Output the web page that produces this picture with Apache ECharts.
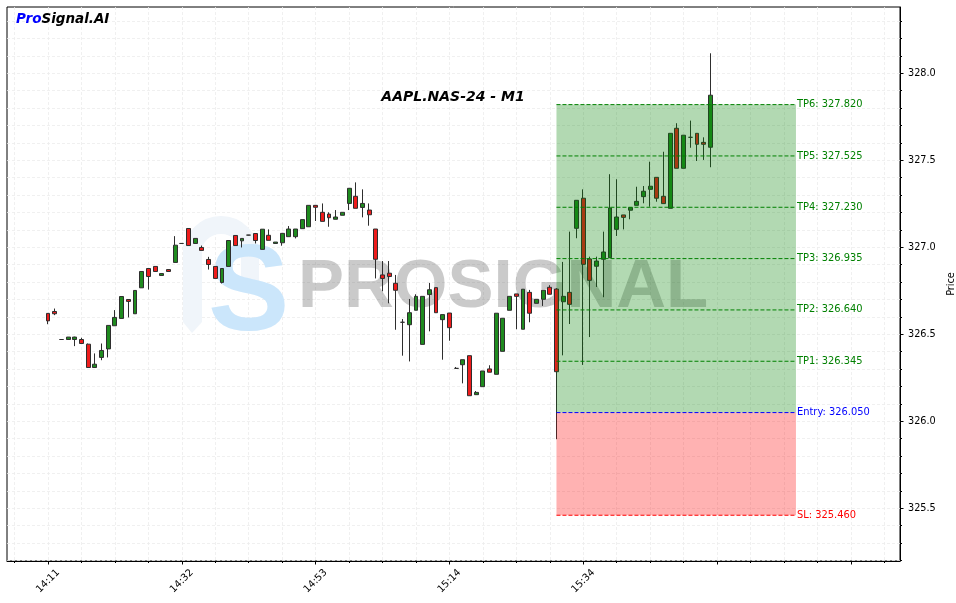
<!DOCTYPE html>
<html><head><meta charset="utf-8">
<script src="https://cdn.jsdelivr.net/npm/echarts@6/dist/echarts.min.js"></script>
<style>html,body{margin:0;padding:0;background:#fff}#c{width:956px;height:603px}</style>
</head><body><div id="c"></div><script>
const opens = [326.620,326.631,326.470,326.470,326.470,326.470,326.443,326.309,326.367,326.416,
326.549,326.591,326.700,326.618,326.767,326.878,326.890,326.838,326.872,326.913,
327.022,327.108,327.022,326.999,326.930,326.890,326.798,326.890,327.068,327.037,
327.070,327.079,326.988,327.069,327.022,327.026,327.061,327.061,327.107,327.118,
327.241,327.201,327.191,327.161,327.184,327.252,327.293,327.229,327.214,327.105,
326.841,326.851,326.793,326.569,326.555,326.638,326.442,326.728,326.768,326.584,
326.622,326.304,326.325,326.377,326.153,326.199,326.301,326.270,326.402,326.638,
326.732,326.529,326.741,326.678,326.701,326.770,326.760,326.687,326.741,327.109,
327.282,326.933,326.891,326.931,326.940,327.103,327.186,327.213,327.241,327.291,
327.333,327.402,327.293,327.224,327.684,327.454,327.632,327.655,327.603,327.575];
const closes = [326.577,326.618,326.470,326.484,326.484,326.447,326.309,326.328,326.407,326.551,
326.597,326.717,326.689,326.752,326.861,326.832,326.861,326.849,326.861,327.012,
327.022,327.010,327.051,326.982,326.901,326.821,326.878,327.039,327.010,327.051,
327.070,327.039,327.104,327.040,327.030,327.080,327.105,327.105,327.159,327.241,
327.230,327.149,327.170,327.174,327.201,327.339,327.224,327.252,327.187,326.931,
326.821,326.832,326.753,326.569,326.624,326.718,326.718,326.756,326.624,326.613,
326.538,326.304,326.354,326.147,326.166,326.289,326.282,326.621,326.592,326.718,
326.718,326.759,326.621,326.701,326.753,326.730,326.285,326.718,326.672,327.270,
326.902,326.810,326.921,326.973,327.226,327.174,327.172,327.228,327.264,327.322,
327.351,327.282,327.251,327.655,327.454,327.644,327.632,327.592,327.592,327.874];
const lows = [326.558,326.610,326.469,326.470,326.432,326.445,326.309,326.309,326.351,326.367,
326.549,326.591,326.597,326.618,326.767,326.757,326.861,326.838,326.861,326.913,
327.021,327.010,327.022,326.982,326.872,326.821,326.792,326.890,327.010,326.999,
327.069,327.022,326.988,327.040,327.022,327.009,327.061,327.051,327.107,327.118,
327.151,327.149,327.118,327.161,327.184,327.214,327.224,327.172,327.124,326.821,
326.747,326.678,326.526,326.377,326.344,326.638,326.442,326.517,326.624,326.354,
326.463,326.303,326.218,326.147,326.153,326.199,326.282,326.270,326.402,326.638,
326.529,326.529,326.569,326.678,326.663,326.730,325.897,326.379,326.559,327.052,
326.324,326.484,326.772,326.713,326.940,327.065,327.103,327.161,327.241,327.253,
327.233,327.262,327.251,327.224,327.454,327.454,327.572,327.496,327.502,327.460];
const highs = [326.622,326.648,326.471,326.484,326.486,326.480,326.447,326.390,326.447,326.551,
326.639,326.717,326.700,326.752,326.861,326.878,326.890,326.849,326.872,327.064,
327.023,327.108,327.051,327.010,326.945,326.890,326.878,327.039,327.068,327.051,
327.071,327.079,327.104,327.103,327.030,327.080,327.122,327.105,327.159,327.241,
327.241,327.252,327.201,327.214,327.201,327.339,327.373,327.333,327.252,327.105,
326.921,326.921,326.841,326.588,326.703,326.730,326.718,326.795,326.768,326.613,
326.622,326.312,326.354,326.377,326.174,326.289,326.322,326.621,326.592,326.718,
326.732,326.759,326.755,326.701,326.753,326.782,326.765,326.916,327.090,327.270,
327.333,326.946,326.946,327.090,327.420,327.391,327.186,327.228,327.348,327.352,
327.492,327.402,327.549,327.655,327.713,327.644,327.728,327.655,327.632,328.115];

const tickIdx = [0, 20, 40, 60, 80, 100, 120];
const tickLabels = ['14:11', '14:32', '14:53', '15:14', '15:34', '', ''];
const yTickValues = [325.5, 326.0, 326.5, 327.0, 327.5, 328.0];
const levelNames = ['TP6', 'TP5', 'TP4', 'TP3', 'TP2', 'TP1', 'Entry', 'SL'];
const levelValues = [327.820, 327.525, 327.230, 326.935, 326.640, 326.345, 326.050, 325.460];
const entryIndex = 76;
const zoneEndIndex = 111.8;
const chartTitle = 'AAPL.NAS-24 - M1';

const X_MIN = -6.13, X_MAX = 127.35, Y_MIN = 325.197, Y_MAX = 328.381;
const FONT = 'DejaVu Sans';

const candleData = opens.map((o, i) => [i, o, closes[i], lows[i], highs[i]]);
const minorX = []; for (let v = -5; v <= 125; v += 5) minorX.push(v);
const minorY = []; for (let k = 3252; k <= 3283; k++) minorY.push(k / 10);

const tp6 = levelValues[levelNames.indexOf('TP6')];
const entry = levelValues[levelNames.indexOf('Entry')];
const sl = levelValues[levelNames.indexOf('SL')];
const zoneData = [[entryIndex, zoneEndIndex, tp6, entry], [entryIndex, zoneEndIndex, entry, sl]];
const zoneFill = ['rgba(0,128,0,0.3)', 'rgba(255,0,0,0.3)'];
const levelData = levelValues.map((v, i) => [entryIndex, zoneEndIndex, v, i]);
function levelColor(name) { return name === 'Entry' ? '#0000ff' : (name === 'SL' ? '#ff0000' : '#008000'); }

const gridLine = { show: true, lineStyle: { color: '#ececec', width: 0.8, type: [3, 2] } };

const chart = echarts.init(document.getElementById('c'), null, { renderer: 'canvas' });
chart.setOption({
  animation: false,
  backgroundColor: '#ffffff',
  textStyle: { fontFamily: FONT },
  grid: { left: 7, right: 56, top: 7, bottom: 42, outerBoundsMode: 'none', containLabel: false,
    show: true, borderColor: '#000', borderWidth: 1, backgroundColor: 'transparent' },
  xAxis: [
    { type: 'value', min: X_MIN, max: X_MAX, position: 'bottom',
      axisLine: { show: true, onZero: false, lineStyle: { color: '#000', width: 1 } },
      axisTick: { show: true, length: 3.5, customValues: tickIdx, lineStyle: { color: '#000' } },
      axisLabel: { show: true, customValues: tickIdx.slice(0, 5), rotate: 45, align: 'center', verticalAlign: 'middle', margin: 20,
        fontSize: 9.9, color: '#000', fontFamily: FONT,
        formatter: v => tickLabels[tickIdx.indexOf(Math.round(v))] },
      splitLine: { show: false } },
    { type: 'value', min: X_MIN, max: X_MAX, position: 'bottom',
      axisLine: { show: false, onZero: false },
      axisTick: { show: true, length: 2, customValues: minorX, lineStyle: { color: '#000' } },
      axisLabel: { show: false },
      splitLine: gridLine }
  ],
  yAxis: [
    { type: 'value', min: Y_MIN, max: Y_MAX, position: 'right',
      axisLine: { show: true, onZero: false, lineStyle: { color: '#000', width: 1 } },
      axisTick: { show: true, length: 3.5, customValues: yTickValues, lineStyle: { color: '#000' } },
      axisLabel: { show: true, customValues: yTickValues, margin: 8, fontSize: 9.7, color: '#000', fontFamily: FONT,
        formatter: v => v.toFixed(1) },
      splitLine: { show: false },
      name: 'Price', nameLocation: 'middle', nameGap: 40, nameRotate: 90,
      nameTextStyle: { fontSize: 9.7, color: '#000', fontFamily: FONT } },
    { type: 'value', min: Y_MIN, max: Y_MAX, position: 'right',
      axisLine: { show: false, onZero: false },
      axisTick: { show: true, length: 2, customValues: minorY, lineStyle: { color: '#000' } },
      axisLabel: { show: false },
      splitLine: gridLine }
  ],
  graphic: [
    { type: 'polygon', z: 1, shape: { points: [[183, 245], [183, 322], [192, 333], [202, 322], [202, 245]] }, style: { fill: '#f0f5fa' } },
    { type: 'arc', z: 1, shape: { cx: 221, cy: 254, r: 29, startAngle: Math.PI, endAngle: 2 * Math.PI, clockwise: true }, style: { fill: 'none', stroke: '#f0f5fa', lineWidth: 18 } },
    { type: 'line', z: 1, shape: { x1: 250, y1: 254, x2: 250, y2: 282 }, style: { stroke: '#f0f5fa', lineWidth: 18 } },
    { type: 'text', z: 1, x: 208, y: 296, style: { text: 'S', font: 'bold 122px "Liberation Sans"', fill: '#cbe6fb', verticalAlign: 'middle', align: 'left' } },
    { type: 'text', z: 1, x: 298, y: 288, style: { text: 'PROSIGNAL', font: 'bold 69px "Liberation Sans"', fill: 'rgba(80,80,80,0.3)', verticalAlign: 'middle', align: 'left' } },
    { type: 'text', z: 10, x: 16, y: 19, style: { text: '{a|Pro}{b|Signal.AI}', verticalAlign: 'middle',
      rich: { a: { fill: '#0000ff', font: 'italic bold 13.5px "DejaVu Sans"' }, b: { fill: '#000', font: 'italic bold 13.5px "DejaVu Sans"' } } } },
    { type: 'text', z: 10, x: 453, y: 97, style: { text: chartTitle, font: 'italic bold 14px "DejaVu Sans"', fill: '#000', align: 'center', verticalAlign: 'middle' } }
  ],
  series: [
    { type: 'candlestick', xAxisIndex: 0, yAxisIndex: 0, z: 2, barWidth: 4.4,
      itemStyle: { color: '#1f8b1f', color0: '#ee1c1c', borderColor: '#2e2e2e', borderColor0: '#2e2e2e', borderWidth: 1 },
      data: candleData },
    { type: 'custom', xAxisIndex: 0, yAxisIndex: 0, z: 3, silent: true,
      encode: { x: [0, 1], y: [2, 3] },
      renderItem: (params, api) => {
        const p1 = api.coord([api.value(0), api.value(2)]);
        const p2 = api.coord([api.value(1), api.value(3)]);
        return { type: 'rect', shape: { x: p1[0], y: p1[1], width: p2[0] - p1[0], height: p2[1] - p1[1] },
          style: { fill: zoneFill[params.dataIndex] } };
      },
      data: zoneData },
    { type: 'custom', xAxisIndex: 0, yAxisIndex: 0, z: 4, silent: true,
      encode: { x: [0, 1], y: 2 },
      renderItem: (params, api) => {
        const v = api.value(2);
        const name = levelNames[api.value(3)];
        const p1 = api.coord([api.value(0), v]);
        const p2 = api.coord([api.value(1), v]);
        const col = levelColor(name);
        return { type: 'group', children: [
          { type: 'line', shape: { x1: p1[0], y1: p1[1], x2: p2[0], y2: p2[1] }, style: { stroke: col, lineWidth: 1, lineDash: [4, 2] } },
          { type: 'text', x: p2[0] + 1, y: p2[1], style: { text: name + ': ' + v.toFixed(3), fill: col, font: '9.9px "DejaVu Sans"', align: 'left', verticalAlign: 'middle' } }
        ] };
      },
      data: levelData }
  ]
});
</script></body></html>
